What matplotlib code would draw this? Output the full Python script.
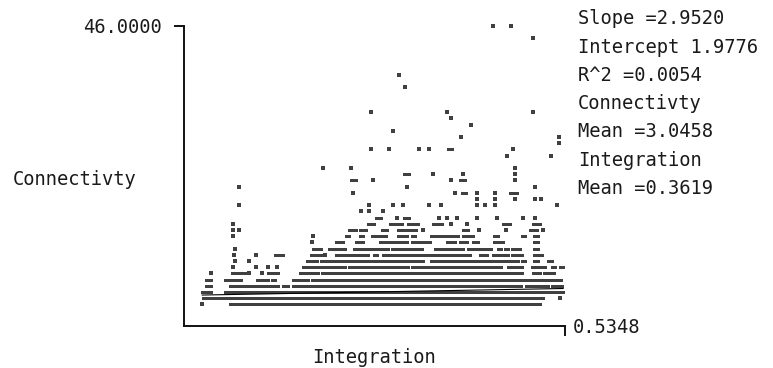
import numpy as np
import matplotlib.pyplot as plt

plt.rcParams['font.family'] = 'DejaVu Sans Mono'

# regression summary printed beside the plot
slope = 2.9520
intercept = 1.9776
r_squared = 0.0054
conn_mean = 3.0458
integ_mean = 0.3619

x_lo, x_hi = 0.158, 0.5348
y_lo, y_hi = -2.5, 46.0

# connectivity rows and the integration ranges covered by dots on each row
conn_rows = [1, 2, 3, 4, 5, 6, 7, 8, 9, 10, 11, 12, 13, 14, 15, 16, 17, 18,
             19, 20, 21, 22, 23, 25, 26, 27, 28, 29, 30, 31, 32, 36, 38, 44, 46]

int_from = [
    [0.176, 0.203, 0.498],
    [0.177, 0.530],
    [0.176, 0.182, 0.199, 0.238, 0.512, 0.525, 0.531],
    [0.180, 0.203, 0.212, 0.231, 0.256, 0.266, 0.496, 0.522, 0.528],
    [0.180, 0.199, 0.230, 0.245, 0.266, 0.285, 0.482, 0.493, 0.513, 0.520, 0.527],
    [0.185, 0.205, 0.213, 0.222, 0.235, 0.241, 0.273, 0.278, 0.294, 0.320, 0.326,
     0.482, 0.503, 0.514, 0.521],
    [0.206, 0.229, 0.241, 0.250, 0.276, 0.291, 0.321, 0.328, 0.383, 0.439, 0.445,
     0.478, 0.502, 0.522, 0.530],
    [0.208, 0.222, 0.280, 0.293, 0.302, 0.308, 0.314, 0.320, 0.402, 0.431, 0.464,
     0.477, 0.483, 0.492, 0.504, 0.518],
    [0.207, 0.229, 0.248, 0.284, 0.297, 0.308, 0.314, 0.320, 0.346, 0.355, 0.365,
     0.374, 0.387, 0.397, 0.414, 0.429, 0.451, 0.464, 0.482, 0.504],
    [0.208, 0.286, 0.301, 0.308, 0.314, 0.326, 0.336, 0.364, 0.373, 0.385, 0.406,
     0.439, 0.453, 0.459, 0.469, 0.475, 0.482, 0.504],
    [0.285, 0.308, 0.328, 0.352, 0.358, 0.376, 0.383, 0.418, 0.431, 0.444, 0.465, 0.504],
    [0.206, 0.286, 0.318, 0.332, 0.344, 0.350, 0.370, 0.383, 0.402, 0.434, 0.441,
     0.465, 0.492, 0.504],
    [0.206, 0.212, 0.321, 0.332, 0.354, 0.370, 0.394, 0.434, 0.450, 0.476, 0.500, 0.513],
    [0.206, 0.340, 0.362, 0.380, 0.404, 0.422, 0.438, 0.473, 0.503],
    [0.348, 0.369, 0.376, 0.410, 0.418, 0.428, 0.448, 0.468, 0.493, 0.505],
    [0.333, 0.341, 0.355],
    [0.212, 0.341, 0.365, 0.375, 0.400, 0.412, 0.448, 0.456, 0.466, 0.527],
    [0.448, 0.466, 0.485, 0.505, 0.511],
    [0.325, 0.426, 0.433, 0.448, 0.466, 0.480],
    [0.212, 0.379, 0.505],
    [0.323, 0.345, 0.422, 0.431, 0.485],
    [0.376, 0.404, 0.434, 0.485],
    [0.295, 0.323, 0.485],
    [0.477, 0.521],
    [0.343, 0.361, 0.390, 0.400, 0.419, 0.483],
    [0.529],
    [0.432, 0.529],
    [0.365],
    [0.442],
    [0.422],
    [0.343, 0.418, 0.503],
    [0.377],
    [0.371],
    [0.503],
    [0.464, 0.481],
]

int_to = [
    [0.176, 0.495, 0.510],
    [0.513, 0.530],
    [0.179, 0.185, 0.236, 0.510, 0.522, 0.528, 0.533],
    [0.185, 0.210, 0.228, 0.251, 0.261, 0.491, 0.518, 0.525, 0.532],
    [0.185, 0.214, 0.241, 0.248, 0.281, 0.480, 0.491, 0.510, 0.518, 0.524, 0.531],
    [0.185, 0.210, 0.218, 0.222, 0.235, 0.251, 0.276, 0.291, 0.317, 0.323, 0.480,
     0.492, 0.510, 0.518, 0.524],
    [0.206, 0.229, 0.241, 0.250, 0.288, 0.317, 0.325, 0.380, 0.436, 0.443, 0.472,
     0.492, 0.515, 0.525, 0.533],
    [0.208, 0.222, 0.290, 0.300, 0.305, 0.311, 0.317, 0.394, 0.428, 0.461, 0.474,
     0.481, 0.488, 0.495, 0.508, 0.522],
    [0.207, 0.229, 0.256, 0.293, 0.297, 0.311, 0.317, 0.340, 0.349, 0.363, 0.371,
     0.384, 0.394, 0.412, 0.426, 0.441, 0.458, 0.478, 0.492, 0.512],
    [0.208, 0.293, 0.305, 0.311, 0.317, 0.333, 0.360, 0.371, 0.383, 0.393, 0.434,
     0.451, 0.456, 0.462, 0.472, 0.478, 0.490, 0.508],
    [0.285, 0.315, 0.335, 0.355, 0.374, 0.379, 0.401, 0.426, 0.438, 0.449, 0.473, 0.508],
    [0.206, 0.286, 0.321, 0.335, 0.347, 0.358, 0.379, 0.386, 0.429, 0.438, 0.444,
     0.469, 0.495, 0.508],
    [0.206, 0.212, 0.328, 0.338, 0.359, 0.387, 0.394, 0.439, 0.450, 0.476, 0.507, 0.513],
    [0.206, 0.346, 0.374, 0.389, 0.413, 0.422, 0.438, 0.480, 0.510],
    [0.353, 0.369, 0.381, 0.410, 0.418, 0.428, 0.448, 0.468, 0.493, 0.505],
    [0.333, 0.341, 0.355],
    [0.212, 0.341, 0.365, 0.375, 0.400, 0.412, 0.448, 0.456, 0.466, 0.527],
    [0.448, 0.466, 0.485, 0.505, 0.511],
    [0.325, 0.426, 0.437, 0.448, 0.466, 0.487],
    [0.212, 0.379, 0.505],
    [0.328, 0.345, 0.422, 0.436, 0.485],
    [0.381, 0.404, 0.434, 0.485],
    [0.295, 0.323, 0.485],
    [0.477, 0.521],
    [0.343, 0.361, 0.390, 0.400, 0.423, 0.483],
    [0.529],
    [0.432, 0.529],
    [0.365],
    [0.442],
    [0.422],
    [0.343, 0.418, 0.503],
    [0.377],
    [0.371],
    [0.503],
    [0.464, 0.481],
]

dot_color = '#404040'
text_color = '#1a1a1a'
fs = 13.5

W, H = 773, 368
fig = plt.figure(figsize=(W / 100, H / 100), dpi=100)
ax = fig.add_axes([184 / W, 1 - 326 / H, 381 / W, 300.5 / H])

# split runs of touching dots from lone dots
seg_y, seg_a, seg_b = [], [], []
dot_x, dot_y = [], []
for c, froms, tos in zip(conn_rows, int_from, int_to):
    for a, b in zip(froms, tos):
        if b > a:
            seg_y.append(c)
            seg_a.append(a)
            seg_b.append(b)
        else:
            dot_x.append(a)
            dot_y.append(c)

ax.hlines(seg_y, seg_a, seg_b, colors=dot_color, linewidth=2.16,
          capstyle='projecting', zorder=2, clip_on=False)
ax.scatter(dot_x, dot_y, s=4.7, marker='s', c=dot_color, linewidths=0,
           zorder=2, clip_on=False)

# fitted line across the data range
all_x = np.array(seg_a + seg_b + dot_x)
fx = np.array([all_x.min(), all_x.max()])
ax.plot(fx, intercept + slope * fx, color='black', lw=0.8, zorder=3)

ax.set_xlim(x_lo, x_hi)
ax.set_ylim(y_lo, y_hi)
for s in ['top', 'right']:
    ax.spines[s].set_visible(False)
for s in ['left', 'bottom']:
    ax.spines[s].set_linewidth(1.4)
    ax.spines[s].set_color('#111111')
    ax.spines[s].set_capstyle('projecting')

ax.set_xticks([x_hi])
ax.set_xticklabels([''])
ax.set_yticks([y_hi])
ax.set_yticklabels([f'{y_hi:.4f}'])
ax.tick_params(axis='x', length=7.2, width=1.4, color='#111111')
ax.tick_params(axis='y', length=7, width=1.4, pad=9, color='#111111',
               labelsize=fs, labelcolor=text_color)

ax.annotate(f'{x_hi:.4f}', xy=(x_hi, y_lo), xytext=(5.5, -5),
            textcoords='offset points', ha='left', va='baseline',
            fontsize=fs, color=text_color, annotation_clip=False)

fig.text(13 / W, 1 - 185 / H, 'Connectivty', ha='left', va='baseline',
         fontsize=fs, color=text_color)
fig.text(374 / W, 1 - 363 / H, 'Integration', ha='center', va='baseline',
         fontsize=fs, color=text_color)

stats = [f'Slope ={slope:.4f}', f'Intercept {intercept:.4f}',
         f'R^2 ={r_squared:.4f}', 'Connectivty', f'Mean ={conn_mean:.4f}',
         'Integration', f'Mean ={integ_mean:.4f}']
for i, line in enumerate(stats):
    fig.text(578 / W, 1 - (24.5 + 28.2 * i) / H, line, ha='left', va='baseline',
             fontsize=fs, color=text_color)

fig.savefig('out.png', dpi=100)
